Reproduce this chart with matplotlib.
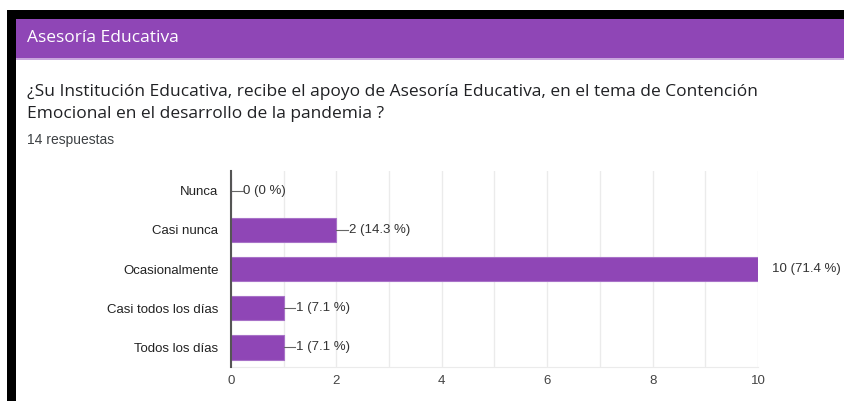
import matplotlib
matplotlib.use("Agg")
import matplotlib.pyplot as plt
from matplotlib.patches import Rectangle

# datos
categorias = ["Nunca", "Casi nunca", "Ocasionalmente", "Casi todos los días", "Todos los días"]
valores = [0, 2, 10, 1, 1]
porcentajes = ["0 %", "14.3 %", "71.4 %", "7.1 %", "7.1 %"]
ticks_x = [0, 2, 4, 6, 8, 10]

titulo = "Asesoría Educativa"
pregunta = ("¿Su Institución Educativa, recibe el apoyo de Asesoría Educativa, en el tema de Contención\n"
            "Emocional en el desarrollo de la pandemia ?")
respuestas = "14 respuestas"

W, H = 845, 401
morado = "#8f46b6"

fig = plt.figure(figsize=(W / 100, H / 100), dpi=100)


def px(x, y):
    return x / W, 1 - y / H


def caja(x0, y0, x1, y1, color):
    fx, fy = px(x0, y1)
    fig.add_artist(Rectangle((fx, fy), (x1 - x0) / W, (y1 - y0) / H,
                             transform=fig.transFigure, color=color, lw=0))


# marco negro y cabecera
caja(7, 10, 845, 19, "black")
caja(7, 10, 16, 401, "black")
caja(16, 19, 845, 59, morado)
caja(16, 58, 845, 60, "#c9a6dd")

fig.text(*px(27, 38), titulo, color="white", fontsize=12.5, family="Open Sans", va="center")
fig.text(*px(27, 103), pregunta, color="#202124", fontsize=12.5, family="Open Sans",
         va="center", linespacing=1.45)
fig.text(*px(27, 140), respuestas, color="#3c4043", fontsize=10, family="Liberation Sans", va="center")

# grafico
l, t = px(231, 171)
r, b = px(758, 367)
ax = fig.add_axes([l, b, r - l, t - b])

ypos = list(range(len(categorias)))
ax.barh(ypos, valores, height=0.62, color=morado, edgecolor="#a872c8", linewidth=0.8, zorder=3)
ax.set_ylim(len(categorias) - 0.5, -0.5)
ax.set_xlim(0, 10)
ax.set_yticks(ypos)
ax.set_yticklabels(categorias, family="Liberation Sans", fontsize=9.5, color="#222222")
ax.set_xticks(ticks_x)
ax.set_xticklabels([str(v) for v in ticks_x], family="Liberation Sans", fontsize=9.5, color="#444444")
ax.set_xticks(range(0, 11), minor=True)
ax.tick_params(axis="y", length=0, pad=9)
ax.tick_params(axis="x", which="both", length=0, pad=6)
ax.grid(axis="x", which="both", color="#ebebeb", lw=1, zorder=0)

for s in ["top", "right"]:
    ax.spines[s].set_visible(False)
ax.spines["bottom"].set_color("#ebebeb")
ax.spines["left"].set_color("#555555")
ax.spines["left"].set_linewidth(1.5)
ax.spines["left"].set_zorder(4)

for yv, v, p in zip(ypos, valores, porcentajes):
    ax.plot([v, v + 0.22], [yv, yv], color="#666666", lw=0.8, clip_on=True, zorder=4)
    dx = 0.27 if v >= 10 else 0.23
    ax.text(v + dx, yv, f"{v} ({p})", va="center", ha="left", fontsize=9.5,
            family="Liberation Sans", color="#333333", clip_on=False)

fig.savefig("out.png", dpi=100, facecolor="white")
